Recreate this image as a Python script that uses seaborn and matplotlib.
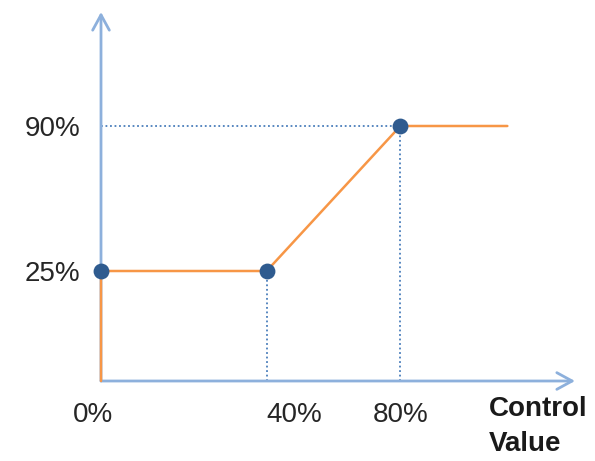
import numpy as np
import pandas as pd
import matplotlib
matplotlib.use("Agg")
import matplotlib.pyplot as plt
import matplotlib.transforms as mtransforms
import seaborn as sns

# curve: output vs control value (percent)
control = [0, 0, 40, 80, 112]
output = [0, 25, 25, 90, 90]

# marked break points
point_x = [0, 40, 80]
point_y = [25, 25, 90]

x_ticks = [0, 40, 80]
x_labels = ["0%", "40%", "80%"]
y_ticks = [25, 90]
y_labels = ["25%", "90%"]

orange = "#F79646"
axis_blue = "#8DB0DC"
dot_blue = "#2F5B8F"
guide_blue = "#4A7EBB"

sns.set_style("white")
plt.rcParams["font.family"] = ["Liberation Sans", "DejaVu Sans"]

# schematic, not to scale: piecewise linear axes
xv = [-100, 0, 40, 80, 400]
xp = [-415, 0, 166, 300, 300 + 320 * 3.35]
yv = [-100, 0, 25, 90, 400]
yp = [-440, 0, 110, 255, 255 + 310 * 2.2308]

def fx(v):
    return np.interp(v, xv, xp)

def fx_inv(p):
    return np.interp(p, xp, xv)

def fy(v):
    return np.interp(v, yv, yp)

def fy_inv(p):
    return np.interp(p, yp, yv)

fig = plt.figure(figsize=(5.95, 4.61), dpi=100)
ax = fig.add_axes([101 / 595, 80 / 461, 474 / 595, 369 / 461])
ax.set_xscale("function", functions=(fx, fx_inv))
ax.set_yscale("function", functions=(fy, fy_inv))
ax.set_xlim(0, 80 + 175 / 3.35)
ax.set_ylim(0, 90 + 114 / 2.2308)

# dotted guides from each point to the axes
ax.vlines(point_x[1:], 0, point_y[1:], colors=guide_blue, linestyles=(0, (1, 1.5)),
          linewidth=1.3, zorder=1)
ax.hlines(point_y[2], 0, point_x[2], colors=guide_blue, linestyles=(0, (1, 1.5)),
          linewidth=1.3, zorder=1)

# axes with open arrow heads
for end in [(1, 0), (0, 1)]:
    ax.annotate("", xy=end, xytext=(0, 0), xycoords="axes fraction", zorder=1,
                arrowprops=dict(arrowstyle="->,head_length=1.1,head_width=0.6",
                                color=axis_blue, lw=2, shrinkA=0, shrinkB=0))

df = pd.DataFrame({"control": control, "output": output})
sns.lineplot(data=df, x="control", y="output", sort=False, estimator=None,
             color=orange, linewidth=1.8, ax=ax, clip_on=False, zorder=3)
pts = pd.DataFrame({"x": point_x, "y": point_y})
sns.scatterplot(data=pts, x="x", y="y", color=dot_blue, s=130, edgecolor=dot_blue,
                linewidth=0, ax=ax, zorder=5, clip_on=False)

for s in ax.spines.values():
    s.set_visible(False)
ax.set_xticks(x_ticks)
ax.set_xticklabels(x_labels)
ax.set_yticks(y_ticks)
ax.set_yticklabels(y_labels)
ax.minorticks_off()
ax.tick_params(axis="x", length=0, pad=15, labelsize=20, labelcolor="#262626")
ax.tick_params(axis="y", length=0, pad=15, labelsize=20, labelcolor="#262626")
for lab in ax.get_xticklabels():
    if lab.get_text() == "40%":
        lab.set_horizontalalignment("left")
    if lab.get_text() == "0%":
        lab.set_transform(lab.get_transform() +
                          mtransforms.ScaledTranslation(-0.08, 0, fig.dpi_scale_trans))
ax.set_xlabel("")
ax.set_ylabel("")

fig.text(489 / 595, 1 - 396 / 461, "Control\nValue", fontsize=20, fontweight="bold",
         color="#1a1a1a", ha="left", va="top", linespacing=1.45)

fig.savefig("out.png", dpi=100)
